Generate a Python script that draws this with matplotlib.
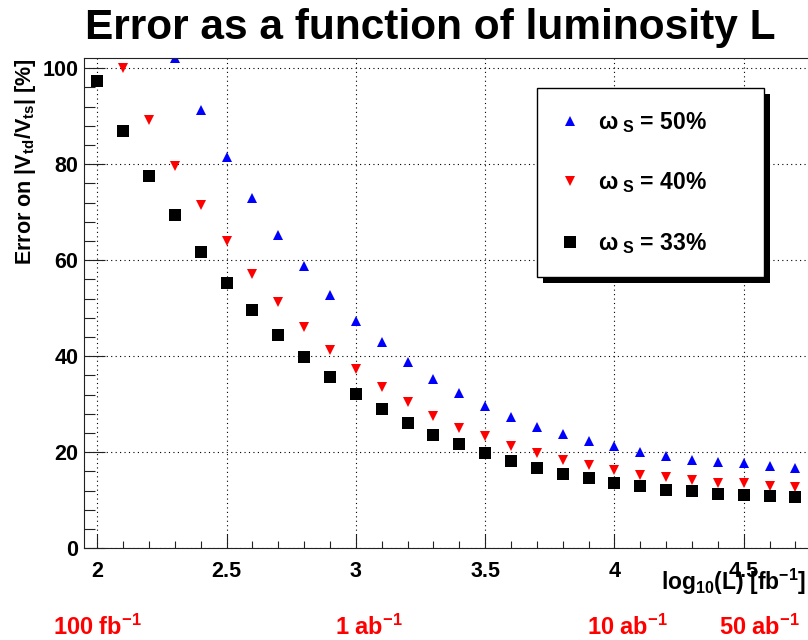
import matplotlib
matplotlib.use("Agg")
import matplotlib.pyplot as plt
from matplotlib.patches import Rectangle
from matplotlib.ticker import MultipleLocator, FuncFormatter
from matplotlib.transforms import blended_transform_factory

plt.rcParams['font.family'] = ['Liberation Sans', 'DejaVu Sans']
plt.rcParams['font.weight'] = 'bold'
plt.rcParams['mathtext.fontset'] = 'custom'
plt.rcParams['mathtext.rm'] = 'Liberation Sans'
plt.rcParams['mathtext.bf'] = 'Liberation Sans:bold'
plt.rcParams['mathtext.it'] = 'Liberation Sans:italic'

# log10 of the integrated luminosity in fb^-1
log_lumi = [2.0, 2.1, 2.2, 2.3, 2.4, 2.5, 2.6, 2.7, 2.8, 2.9,
            3.0, 3.1, 3.2, 3.3, 3.4, 3.5, 3.6, 3.7, 3.8, 3.9,
            4.0, 4.1, 4.2, 4.3, 4.4, 4.5, 4.6, 4.7]

# relative error on |Vtd/Vts| in %, for three signal fractions
err_33 = [97.3, 87.0, 77.5, 69.4, 61.8, 55.2, 49.6, 44.5, 39.9, 35.7,
          32.1, 29.0, 26.0, 23.6, 21.7, 19.8, 18.2, 16.8, 15.4, 14.6,
          13.5, 13.0, 12.2, 11.9, 11.4, 11.1, 10.8, 10.6]
err_40 = [100.1, 89.2, 79.7, 71.4, 63.9, 57.1, 51.2, 46.0, 41.3,
          37.3, 33.5, 30.5, 27.6, 25.1, 23.3, 21.4, 19.8, 18.3, 17.3,
          16.2, 15.3, 14.8, 14.2, 13.7, 13.5, 13.0, 12.8]
err_50 = [102.0, 91.2, 81.4, 73.0, 65.3, 58.7, 52.7,
          47.4, 42.9, 38.8, 35.3, 32.3, 29.6, 27.4, 25.3, 23.7, 22.4,
          21.2, 20.1, 19.2, 18.4, 18.0, 17.7, 17.2, 16.8]

lumi_names = ['100 fb$^{\\mathbf{-1}}$', '1 ab$^{\\mathbf{-1}}$',
              '10 ab$^{\\mathbf{-1}}$', '50 ab$^{\\mathbf{-1}}$']
lumi_name_x = [2.0, 3.05, 4.05, 4.56]

fig = plt.figure(figsize=(8.08, 6.4), dpi=100)
ax = fig.add_axes([0.104, 0.1433, 0.905, 0.7653])

ax.plot(log_lumi[3:], err_50, linestyle='none', marker='^', markersize=7,
        markeredgewidth=0, color='#0000ff', label='ω$_{\\ \\mathrm{S}}$ = 50%')
ax.plot(log_lumi[1:], err_40, linestyle='none', marker='v', markersize=7,
        markeredgewidth=0, color='#ff0000', label='ω$_{\\ \\mathrm{S}}$ = 40%')
ax.plot(log_lumi, err_33, linestyle='none', marker='s', markersize=8,
        markeredgewidth=0, color='black', label='ω$_{\\ \\mathrm{S}}$ = 33%')

ax.set_xlim(1.949, 4.777)
ax.set_ylim(0, 102)

ax.xaxis.set_major_locator(MultipleLocator(0.5))
ax.xaxis.set_minor_locator(MultipleLocator(0.1))
ax.yaxis.set_major_locator(MultipleLocator(20))
ax.yaxis.set_minor_locator(MultipleLocator(4))
ax.xaxis.set_major_formatter(FuncFormatter(lambda v, p: f'{v:g}'))

ax.tick_params(axis='both', which='both', direction='in', top=False, right=False,
               width=0.8, color='#222222', labelsize=15.5)
ax.tick_params(axis='x', which='major', length=10, pad=9)
ax.tick_params(axis='x', which='minor', length=5)
ax.tick_params(axis='y', which='major', length=15, pad=4)
ax.tick_params(axis='y', which='minor', length=8)
for lab in ax.get_xticklabels() + ax.get_yticklabels():
    lab.set_fontweight('bold')

ax.grid(True, which='major', color='black', linewidth=0.8, linestyle=(0, (1, 3)))
for s in ax.spines.values():
    s.set_linewidth(0.8)
    s.set_color('#222222')

ax.set_ylabel('Error on |V$_{\\mathbf{td}}$/V$_{\\mathbf{ts}}$| [%]',
              loc='top', fontsize=15.5, fontweight='bold', labelpad=3)
fig.text(806 / 808, 1 - 590 / 640, 'log$_{\\mathbf{10}}$(L) [fb$^{\\mathbf{-1}}$]',
         ha='right', va='baseline', fontsize=16.5, fontweight='bold')

fig.text(0.532, 1 - 39 / 640, 'Error as a function of luminosity L',
         ha='center', va='baseline', fontsize=30.5, fontweight='bold')

trans = blended_transform_factory(ax.transData, fig.transFigure)
for name, xpos in zip(lumi_names, lumi_name_x):
    ax.text(xpos, 5 / 640, name, transform=trans, ha='center', va='baseline',
            color='#ff0000', fontsize=17, fontweight='bold', clip_on=False)

leg = ax.legend(loc='upper left',
                bbox_to_anchor=(537 / 808, 1 - 273 / 640, 227 / 808, 185 / 640),
                bbox_transform=fig.transFigure, mode='expand', fancybox=False,
                framealpha=1, edgecolor='black', borderpad=0.95,
                labelspacing=1.55, handlelength=1.0, handletextpad=0.7,
                borderaxespad=0, prop={'weight': 'bold', 'size': 16.5})
leg.get_frame().set_linewidth(1.0)
leg.set_zorder(5)

# solid black drop shadow under the legend box
fig.canvas.draw()
bb = leg.get_window_extent().transformed(fig.transFigure.inverted())
dx, dy = 6 / 808, 6 / 640
shadow = Rectangle((bb.x0 + dx, bb.y0 - dy), bb.width, bb.height,
                   transform=fig.transFigure, facecolor='black', edgecolor='none',
                   zorder=4)
ax.add_artist(shadow)
shadow.set_clip_on(False)

fig.savefig('out.png', dpi=100)
